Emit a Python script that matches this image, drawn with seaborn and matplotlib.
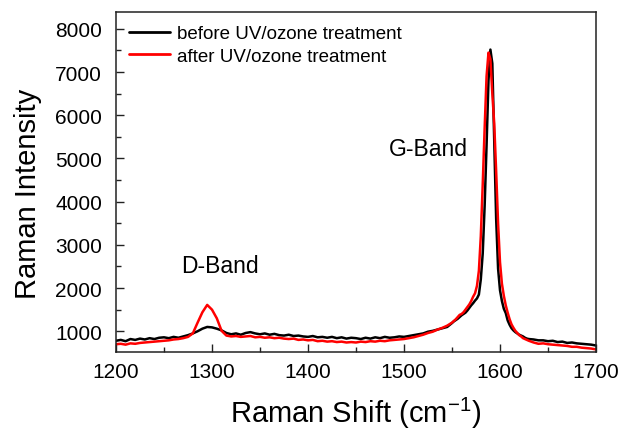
import numpy as np
import pandas as pd
import matplotlib
matplotlib.use("Agg")
import matplotlib.pyplot as plt
import seaborn as sns
from matplotlib.ticker import MultipleLocator

# Raman shift grid (cm^-1)
shift = ([1200 + 5 * i for i in range(71)]          # 1200..1550
         + [1552 + 2 * i for i in range(39)]        # 1552..1628
         + [1630 + 5 * i for i in range(15)])       # 1630..1700

before = [
    780, 800, 770, 820, 800, 830, 810, 840, 820, 850,      # 1200-1245
    860, 840, 870, 850, 880, 910, 950, 1000, 1060, 1100,   # 1250-1295
    1090, 1060, 1020, 960, 930, 950, 920, 960, 980, 950,   # 1300-1345
    930, 950, 920, 940, 910, 900, 920, 890, 900, 880,      # 1350-1395
    870, 890, 860, 870, 850, 870, 840, 860, 830, 850,      # 1400-1445
    840, 820, 850, 830, 860, 840, 870, 850, 860, 880,      # 1450-1495
    870, 890, 910, 930, 950, 990, 1010, 1040, 1070, 1100,  # 1500-1545
    1190,                                                  # 1550
    1230, 1260, 1290, 1330, 1370, 1400, 1430, 1480, 1540, 1600,  # 1552-1570
    1650, 1710, 1760, 1850, 2200, 2800, 3900, 5300, 6800, 7520,  # 1572-1590
    7200, 5400, 3600, 2450, 1950, 1700, 1520, 1420, 1250, 1150,  # 1592-1610
    1070, 1020, 980, 950, 920, 900, 880, 850, 830,               # 1612-1628
    820, 810, 790, 790, 770, 780, 750, 760, 730, 740,      # 1630-1675
    720, 710, 700, 690, 670,                               # 1680-1700
]

after = [
    700, 710, 690, 720, 710, 730, 740, 750, 760, 770,      # 1200-1245
    780, 790, 810, 820, 840, 870, 950, 1200, 1440, 1610,   # 1250-1295
    1500, 1300, 1010, 900, 880, 890, 870, 880, 890, 860,   # 1300-1345
    870, 850, 860, 840, 850, 830, 820, 830, 800, 810,      # 1350-1395
    790, 800, 770, 780, 760, 770, 750, 760, 740, 750,      # 1400-1445
    740, 760, 750, 770, 760, 780, 770, 790, 800, 810,      # 1450-1495
    820, 840, 860, 890, 920, 960, 990, 1040, 1080, 1130,   # 1500-1545
    1200,                                                  # 1550
    1240, 1280, 1330, 1380, 1400, 1440, 1500, 1560, 1620, 1700,  # 1552-1570
    1800, 1880, 2050, 2400, 3200, 4400, 5700, 6900, 7450, 7300,  # 1572-1590
    6500, 5800, 4700, 3500, 2600, 2100, 1820, 1600, 1430, 1280,  # 1592-1610
    1160, 1080, 1010, 960, 910, 880, 840, 820, 800,              # 1612-1628
    780, 740, 710, 720, 700, 690, 680, 670, 660, 640,      # 1630-1675
    640, 620, 610, 600, 580,                               # 1680-1700
]

labels = ["before UV/ozone treatment", "after UV/ozone treatment"]
colors = ["#000000", "#ff0000"]
annotations = [("D-Band", 1268, 2520), ("G-Band", 1484, 5220)]

df = pd.DataFrame({
    "shift": shift * 2,
    "intensity": before + after,
    "sample": [labels[0]] * len(shift) + [labels[1]] * len(shift),
})

sns.set_theme(style="white")
plt.rcParams["font.family"] = ["Liberation Sans", "DejaVu Sans"]
plt.rcParams["text.color"] = "black"
plt.rcParams["axes.labelcolor"] = "black"

fig = plt.figure(figsize=(6.26, 4.31), dpi=100)
ax = fig.add_axes([116 / 626, 1 - 353 / 431, 480 / 626, 340 / 431])

sns.lineplot(data=df, x="shift", y="intensity", hue="sample",
             palette=dict(zip(labels, colors)), hue_order=labels,
             linewidth=1.8, ax=ax, legend=False, sort=False,
             estimator=None)

ax.set_xlim(1200, 1700)
ax.set_ylim(520, 8390)
ax.xaxis.set_major_locator(MultipleLocator(100))
ax.xaxis.set_minor_locator(MultipleLocator(50))
ax.yaxis.set_major_locator(MultipleLocator(1000))
ax.yaxis.set_minor_locator(MultipleLocator(500))
ax.set_yticks([1000, 2000, 3000, 4000, 5000, 6000, 7000, 8000])

ax.tick_params(axis="both", which="both", direction="in",
               bottom=True, left=True, top=False, right=False,
               colors="#222222", labelcolor="black")
ax.tick_params(axis="both", which="major", length=6, width=1.0, labelsize=15)
ax.tick_params(axis="both", which="minor", length=3.5, width=1.0)
ax.tick_params(axis="x", which="major", pad=7)
ax.tick_params(axis="y", which="major", pad=10)

for s in ax.spines.values():
    s.set_color("#222222")
    s.set_linewidth(1.1)

ax.set_xlabel("Raman Shift (cm$^{\\mathregular{-1}}$)", fontsize=21, labelpad=10,
              color="black")
ax.set_ylabel("Raman Intensity", fontsize=21, color="black")
ax.yaxis.set_label_coords(-0.154, 0.468)

for text, xv, yv in annotations:
    ax.text(xv, yv, text, fontsize=16.5, ha="left", va="center", color="black")

handles = [plt.Line2D([], [], color=c, linewidth=2) for c in colors]
leg = ax.legend(handles, labels, loc="upper left", frameon=False, fontsize=13.5,
                handlelength=2.2, handletextpad=0.35, labelspacing=0.3,
                borderaxespad=0.3, bbox_to_anchor=(0.0, 1.0))
for t in leg.get_texts():
    t.set_color("black")

fig.savefig("out.png", dpi=100)
